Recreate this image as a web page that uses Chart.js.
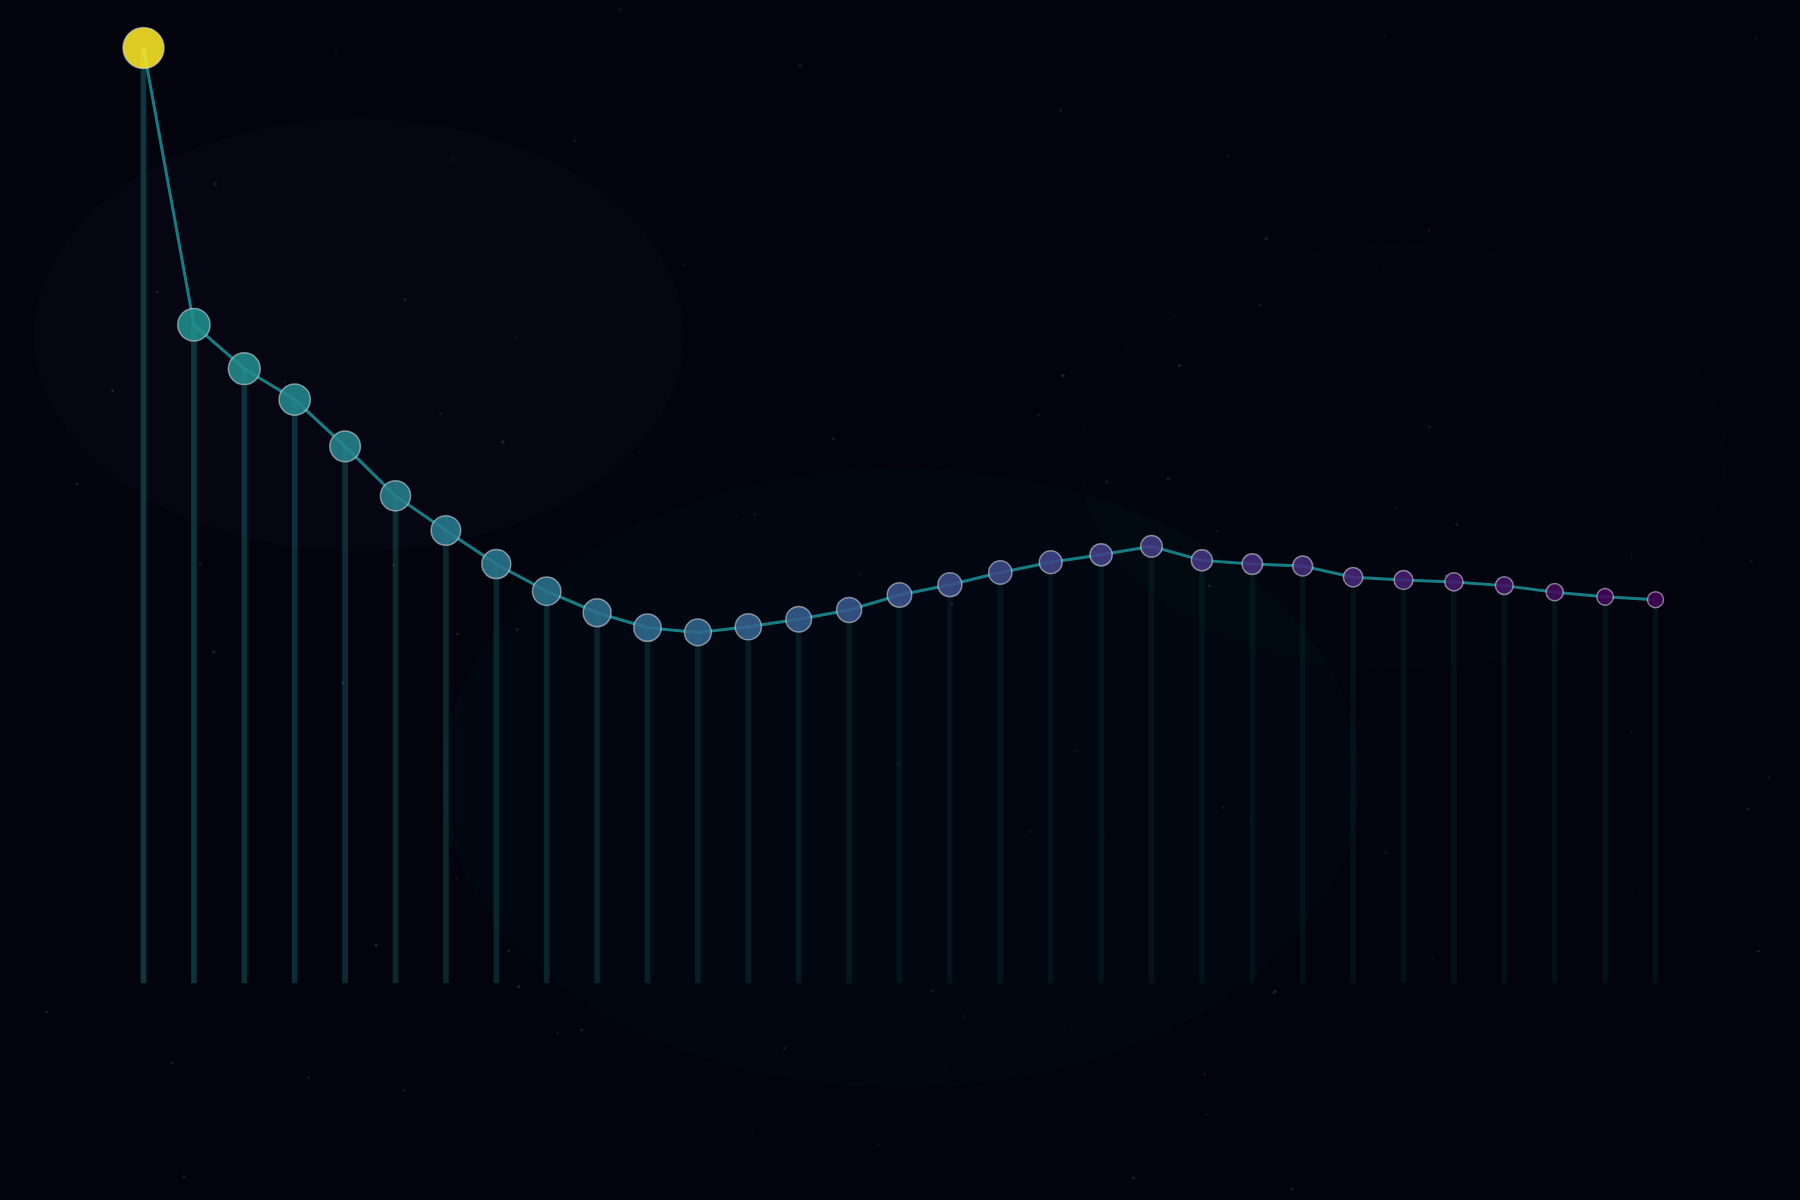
<!DOCTYPE html>
<html>
<head>
<meta charset="utf-8">
<script src="https://cdn.jsdelivr.net/npm/chart.js@4"></script>
<style>
  html, body { margin: 0; padding: 0; background: #03040d; }
  #wrap { width: 1800px; height: 1200px; position: relative; }
  canvas { display: block; }
</style>
</head>
<body>
<div id="wrap"><canvas id="c" width="1800" height="1200"></canvas></div>
<script>
// ---- data ----
const labels = ['1','2','3','4','5','6','7','8','9','10','11','12','13','14','15','16',
                '17','18','19','20','21','22','23','24','25','26','27','28','29','30','31'];
const values = [100.0, 70.4, 65.7, 62.4, 57.4, 52.1, 48.4, 44.8, 41.9, 39.6, 38.0,
                37.5, 38.1, 38.9, 39.9, 41.5, 42.6, 43.9, 45.0, 45.8, 46.7,
                45.2, 44.8, 44.6, 43.4, 43.1, 42.9, 42.5, 41.8, 41.3, 41.0];

// ---- styling helpers ----
const VIR = [[68,1,84],[72,36,117],[65,68,135],[53,95,141],[42,120,142],
             [33,145,140],[34,168,132],[68,191,112],[122,209,81],[189,223,38],[253,231,37]];
function viridis(t, a) {
  t = Math.max(0, Math.min(1, t));
  const p = t * (VIR.length - 1), i = Math.floor(p), f = p - i;
  const c0 = VIR[i], c1 = VIR[Math.min(i + 1, VIR.length - 1)];
  const c = c0.map((v, k) => Math.round(v + (c1[k] - v) * f));
  return `rgba(${c[0]},${c[1]},${c[2]},${a})`;
}
const n = values.length;
function colorT(i) { return i === 0 ? 1 : 0.5 - 0.5 * (i - 1) / (n - 2); }
function radius(i) { return i === 0 ? 20.5 : 16.2 - 8.2 * (i - 1) / (n - 2); }
function stemAlpha(i) { return Math.max(0.1, 0.4 - 0.3 * i / 16); }

// background decoration plugin
const bgPlugin = {
  id: 'bg',
  beforeDraw(chart) {
    const ctx = chart.ctx;
    ctx.save();
    ctx.fillStyle = '#02030c';
    ctx.fillRect(0, 0, chart.width, chart.height);
    const blobs = [
      [359, 335, 325, 216, 'rgba(110,100,170,0.035)'],
      [901, 778, 459, 310, 'rgba(0,150,165,0.03)'],
      [1403, 456, 325, 215, 'rgba(60,140,100,0.018)']
    ];
    blobs.forEach(b => {
      ctx.beginPath();
      ctx.ellipse(b[0], b[1], b[2], b[3], 0, 0, Math.PI * 2);
      ctx.fillStyle = b[4];
      ctx.fill();
    });
    // faint stars (deterministic)
    let s = 12345;
    const rnd = () => { s = (s * 1103515245 + 12345) % 2147483648; return s / 2147483648; };
    for (let k = 0; k < 90; k++) {
      const x = rnd() * chart.width, y = rnd() * chart.height, r = 0.8 + rnd() * 1.0;
      ctx.beginPath();
      ctx.arc(x, y, r, 0, Math.PI * 2);
      ctx.fillStyle = 'rgba(150,160,180,' + (0.08 + rnd() * 0.12).toFixed(3) + ')';
      ctx.fill();
    }
    ctx.restore();
  }
};

new Chart(document.getElementById('c'), {
  type: 'bar',
  data: {
    labels: labels,
    datasets: [
      {
        type: 'line',
        data: values,
        order: 0,
        clip: false,
        borderColor: 'rgba(28,155,162,0.8)',
        borderWidth: 3,
        tension: 0,
        pointRadius: ctx => radius(ctx.dataIndex),
        pointHoverRadius: ctx => radius(ctx.dataIndex),
        pointBackgroundColor: ctx => viridis(colorT(ctx.dataIndex), 0.88),
        pointBorderColor: 'rgba(220,225,235,0.55)',
        pointBorderWidth: 1.5
      },
      {
        type: 'bar',
        data: values,
        order: 1,
        clip: false,
        backgroundColor: ctx => `rgba(30,130,135,${stemAlpha(ctx.dataIndex).toFixed(3)})`,
        borderWidth: 0,
        barThickness: 5
      }
    ]
  },
  options: {
    responsive: false,
    animation: false,
    events: [],
    layout: { padding: { left: 143.5, right: 144.5, top: 48, bottom: 217 } },
    plugins: { legend: { display: false }, tooltip: { enabled: false } },
    scales: {
      x: { display: false, offset: false, grid: { display: false } },
      y: { display: false, min: 0, max: 100, grid: { display: false } }
    }
  },
  plugins: [bgPlugin]
});
</script>
</body>
</html>
